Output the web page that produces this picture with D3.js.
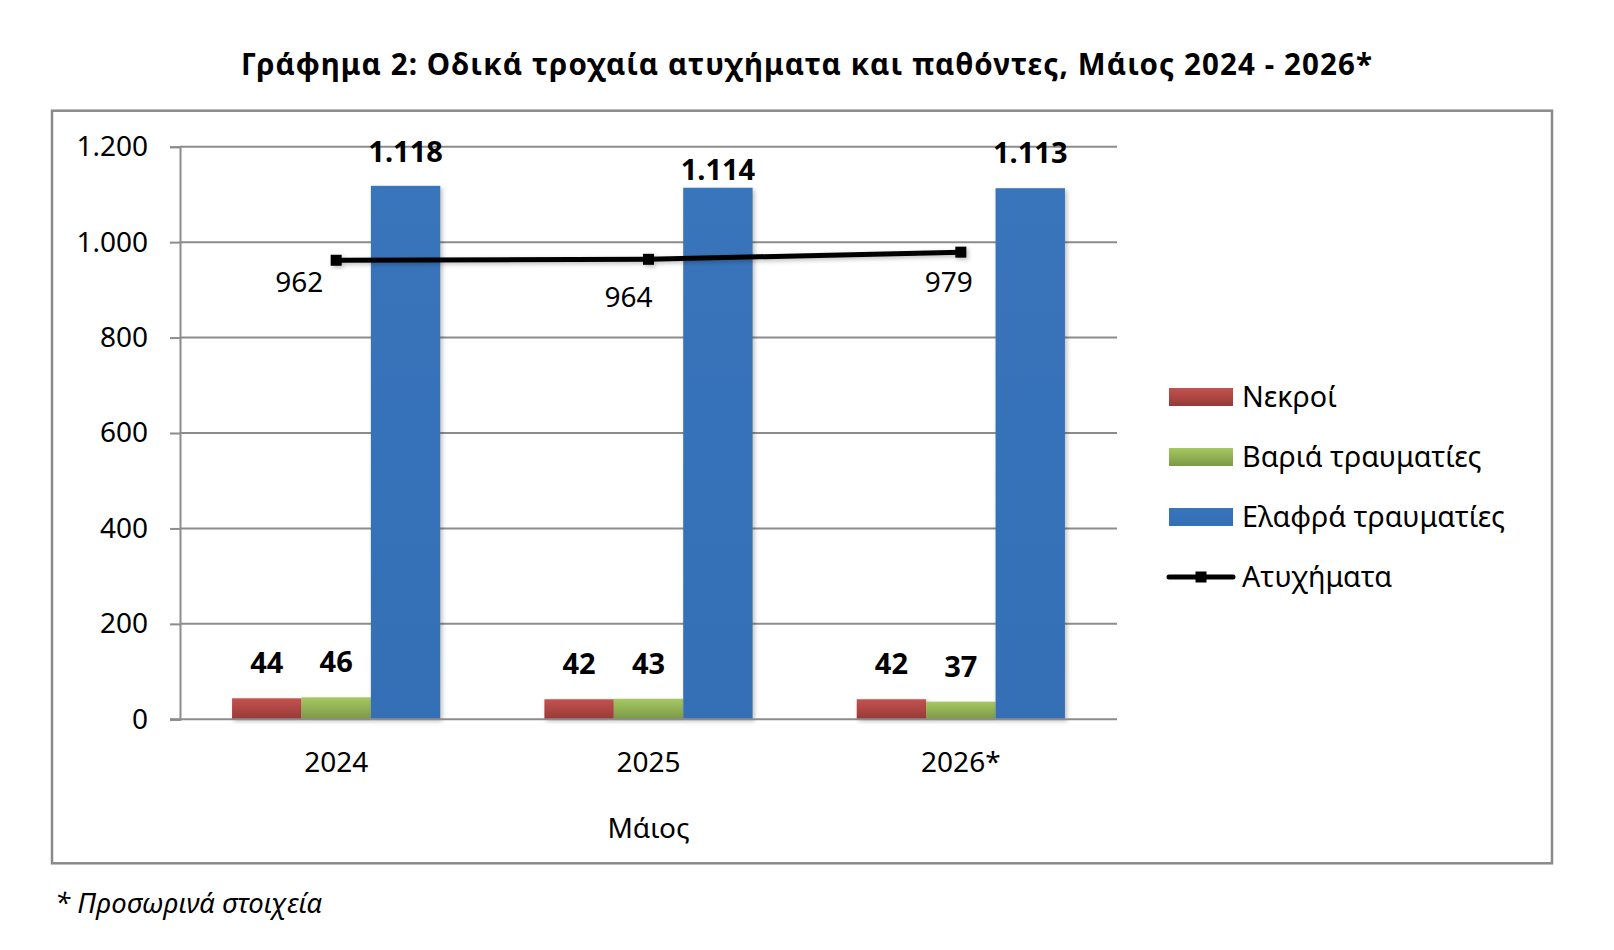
<!DOCTYPE html>
<html>
<head>
<meta charset="utf-8">
<script src="https://cdn.jsdelivr.net/npm/d3@7"></script>
<style>
  body { margin: 0; background: #fff; }
  text { font-family: "Noto Sans", "DejaVu Sans", sans-serif; fill: #000; }
</style>
</head>
<body>
<div id="canvas"></div>
<script>
const years = ["2024", "2025", "2026*"];
const seriesNames = ["Νεκροί", "Βαριά τραυματίες", "Ελαφρά τραυματίες"];
const nekroi = [44, 42, 42];
const bariaTraum = [46, 43, 37];
const elafraTraum = [1118, 1114, 1113];
const atyximata = [962, 964, 979];
const lineName = "Ατυχήματα";
const yTicks = [0, 200, 400, 600, 800, 1000, 1200];

const title = "Γράφημα 2: Οδικά τροχαία ατυχήματα και παθόντες, Μάιος 2024 - 2026*";
const xTitle = "Μάιος";
const footnote = "* Προσωρινά στοιχεία";

// label placement tweaks (as placed in the original), per series then per year
const lineLabelOffset = [[-37, 32], [-20, 48], [-12, 40]];
const barLabelLift = [[25, 25, 25], [25, 25, 25], [24, 8, 25]];

const width = 1614;
const height = 950;
const plot = { left: 180, right: 1117, top: 146.7, bottom: 719.3 };

const greekFmt = d3.formatLocale({ decimal: ",", thousands: ".", grouping: [3], currency: ["", "€"] }).format(",d");

const svg = d3.select("#canvas").append("svg")
    .attr("width", width)
    .attr("height", height);

const defs = svg.append("defs");
const grads = [
    ["gRed", "#c4524f", "#963a37"],
    ["gGreen", "#a6c862", "#7c9846"],
    ["gBlue", "#3874bb", "#3470b6"]
];
grads.forEach(gd => {
    const lg = defs.append("linearGradient").attr("id", gd[0])
        .attr("x1", 0).attr("y1", 0).attr("x2", 0).attr("y2", 1);
    lg.append("stop").attr("offset", "0%").attr("stop-color", gd[1]);
    lg.append("stop").attr("offset", "100%").attr("stop-color", gd[2]);
});
defs.append("filter").attr("id", "shadow")
    .attr("x", "-20%").attr("y", "-20%").attr("width", "140%").attr("height", "140%")
    .append("feDropShadow")
    .attr("dx", 2).attr("dy", 2).attr("stdDeviation", 2)
    .attr("flood-color", "#000").attr("flood-opacity", 0.25);

const fills = ["url(#gRed)", "url(#gGreen)", "url(#gBlue)"];

// outer frame
svg.append("rect")
    .attr("x", 52).attr("y", 110.7)
    .attr("width", 1500).attr("height", 752.6)
    .attr("fill", "none")
    .attr("stroke", "#8a8a8a")
    .attr("stroke-width", 2.5);

// title, sized to the original width
const titleText = svg.append("text")
    .attr("x", 807).attr("y", 75)
    .attr("text-anchor", "middle")
    .attr("font-weight", "bold")
    .attr("font-size", 28)
    .text(title);
const tw = titleText.node().getComputedTextLength();
const titleSize = Math.min(29.5, 28 * 1132 / tw);
titleText.attr("font-size", titleSize);
const tw2 = titleText.node().getComputedTextLength();
if (tw2 < 1132) {
    titleText.attr("letter-spacing", ((1132 - tw2) / title.length).toFixed(2) + "px");
}

const x = d3.scaleBand()
    .domain(years)
    .range([plot.left, plot.right]);

const xs = d3.scaleBand()
    .domain(seriesNames)
    .range([0, x.bandwidth()])
    .paddingOuter(0.75);

const y = d3.scaleLinear()
    .domain([0, 1200])
    .range([plot.bottom, plot.top]);

// gridlines
svg.append("g")
    .selectAll("line")
    .data(yTicks.filter(t => t > 0))
    .join("line")
    .attr("x1", plot.left).attr("x2", plot.right)
    .attr("y1", d => y(d)).attr("y2", d => y(d))
    .attr("stroke", "#8c8c8c")
    .attr("stroke-width", 2);

// y axis
const yAxis = svg.append("g")
    .attr("transform", `translate(${plot.left},0)`)
    .call(d3.axisLeft(y).tickValues(yTicks).tickFormat(greekFmt).tickSize(10).tickPadding(22));
yAxis.select(".domain").attr("stroke", "#8c8c8c").attr("stroke-width", 2);
yAxis.selectAll(".tick line").attr("stroke", "#8c8c8c").attr("stroke-width", 2);
yAxis.selectAll(".tick text")
    .attr("font-family", "Noto Sans")
    .attr("font-size", 28)
    .attr("fill", "#000");

// bars
const seriesData = [nekroi, bariaTraum, elafraTraum];
const groups = svg.append("g")
    .selectAll("g")
    .data(seriesData)
    .join("g");

groups.append("g")
    .attr("filter", "url(#shadow)")
    .attr("fill", (d, i) => fills[i])
    .selectAll("rect")
    .data((vals, si) => vals.map((v, ci) => ({ v: v, si: si, ci: ci })))
    .join("rect")
    .attr("x", d => x(years[d.ci]) + xs(seriesNames[d.si]))
    .attr("y", d => y(d.v))
    .attr("width", xs.bandwidth())
    .attr("height", d => y(0) - y(d.v));

// x axis line
svg.append("line")
    .attr("x1", plot.left - 10).attr("x2", plot.right)
    .attr("y1", plot.bottom).attr("y2", plot.bottom)
    .attr("stroke", "#8c8c8c")
    .attr("stroke-width", 2);

// category labels
svg.append("g")
    .selectAll("text")
    .data(years)
    .join("text")
    .attr("x", d => x(d) + x.bandwidth() / 2)
    .attr("y", 772)
    .attr("text-anchor", "middle")
    .attr("font-size", 28)
    .text(d => d);

svg.append("text")
    .attr("x", x(years[1]) + x.bandwidth() / 2)
    .attr("y", 838)
    .attr("text-anchor", "middle")
    .attr("font-size", 28)
    .text(xTitle);

// bar value labels
groups.append("g")
    .selectAll("text")
    .data((vals, si) => vals.map((v, ci) => ({ v: v, si: si, ci: ci })))
    .join("text")
    .attr("x", d => x(years[d.ci]) + xs(seriesNames[d.si]) + xs.bandwidth() / 2)
    .attr("y", d => y(d.v) - barLabelLift[d.si][d.ci])
    .attr("text-anchor", "middle")
    .attr("font-weight", "bold")
    .attr("font-size", 29)
    .text(d => greekFmt(d.v));

// line series
const cx = i => x(years[i]) + x.bandwidth() / 2;
const line = d3.line()
    .x((d, i) => cx(i))
    .y(d => y(d));

const lineG = svg.append("g").attr("filter", "url(#shadow)");
lineG.append("path")
    .datum(atyximata)
    .attr("d", line)
    .attr("fill", "none")
    .attr("stroke", "#000")
    .attr("stroke-width", 5);
lineG.selectAll("rect")
    .data(atyximata)
    .join("rect")
    .attr("x", (d, i) => cx(i) - 5.5)
    .attr("y", d => y(d) - 5.5)
    .attr("width", 11).attr("height", 11)
    .attr("fill", "#000");

svg.append("g")
    .selectAll("text")
    .data(atyximata)
    .join("text")
    .attr("x", (d, i) => cx(i) + lineLabelOffset[i][0])
    .attr("y", (d, i) => y(d) + lineLabelOffset[i][1])
    .attr("text-anchor", "middle")
    .attr("font-size", 28)
    .text(d => greekFmt(d));

// legend
const legendY = [397, 457, 517, 577];
const legend = svg.append("g");
seriesNames.forEach((name, i) => {
    legend.append("rect")
        .attr("x", 1169).attr("y", legendY[i] - 9)
        .attr("width", 64).attr("height", 18)
        .attr("fill", fills[i]);
    legend.append("text")
        .attr("x", 1242).attr("y", legendY[i] + 10)
        .attr("font-size", 28.7)
        .text(name);
});
legend.append("line")
    .attr("x1", 1169).attr("x2", 1233)
    .attr("y1", legendY[3]).attr("y2", legendY[3])
    .attr("stroke", "#000").attr("stroke-width", 5)
    .attr("stroke-linecap", "round");
legend.append("rect")
    .attr("x", 1195.5).attr("y", legendY[3] - 5.5)
    .attr("width", 11).attr("height", 11)
    .attr("fill", "#000");
legend.append("text")
    .attr("x", 1242).attr("y", legendY[3] + 10)
    .attr("font-size", 28.7)
    .text(lineName);

// footnote
svg.append("text")
    .attr("x", 55).attr("y", 913)
    .attr("font-style", "italic")
    .attr("font-size", 27.5)
    .text(footnote);
</script>
</body>
</html>
